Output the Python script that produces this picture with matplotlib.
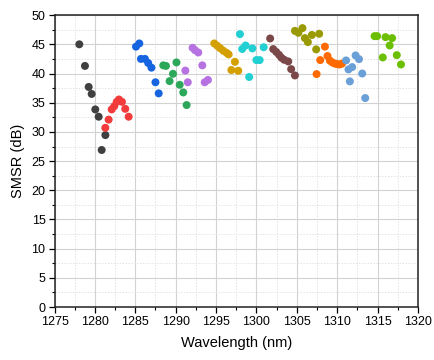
import matplotlib
matplotlib.use("Agg")
import matplotlib.pyplot as plt
from matplotlib.ticker import MultipleLocator

plt.rcParams['font.family'] = ['Liberation Sans', 'DejaVu Sans']

# Series data (wavelength nm, SMSR dB)
x_black = [1278.07, 1278.77, 1279.23, 1279.6, 1280.05, 1280.47, 1281.3, 1280.84]
y_black = [45.0, 41.3, 37.7, 36.5, 33.85, 32.6, 29.45, 26.9]

x_red = [1281.29, 1281.7, 1282.08, 1282.4, 1282.7, 1282.98, 1283.35, 1283.76, 1284.18]
y_red = [30.7, 32.1, 33.85, 34.4, 35.15, 35.55, 35.15, 33.95, 32.6]

x_blue = [1285.09, 1285.5, 1285.7, 1286.2, 1286.6, 1287.0, 1287.5, 1287.9]
y_blue = [44.6, 45.15, 42.5, 42.5, 41.8, 41.0, 38.5, 36.6]

x_green = [1288.47, 1288.8, 1290.1, 1289.67, 1289.25, 1290.5, 1290.94, 1291.36]
y_green = [41.4, 41.3, 41.9, 39.95, 38.7, 38.07, 36.76, 34.6]

x_purple = [1292.1, 1292.4, 1292.8, 1293.3, 1291.2, 1291.5, 1293.6, 1294.0]
y_purple = [44.4, 44.0, 43.6, 41.4, 40.5, 38.5, 38.5, 38.9]

x_gold = [1294.78, 1295.15, 1295.5, 1295.9, 1296.3, 1296.56, 1297.34, 1296.9, 1297.75]
y_gold = [45.15, 44.75, 44.35, 43.9, 43.55, 43.27, 42.0, 40.6, 40.47]

x_cyan = [1297.96, 1298.24, 1298.66, 1299.5, 1300.9, 1300.0, 1300.4, 1299.1]
y_cyan = [46.75, 44.2, 44.8, 44.3, 44.5, 42.3, 42.3, 39.4]

x_brown = [1301.7, 1302.08, 1302.45, 1302.8, 1303.1, 1303.44, 1303.94, 1304.3, 1304.77]
y_brown = [46.0, 44.18, 43.7, 43.2, 42.7, 42.35, 42.07, 40.75, 39.67]

x_olive = [1304.77, 1305.2, 1305.7, 1306.0, 1306.37, 1306.87, 1307.4, 1307.77]
y_olive = [47.3, 46.97, 47.77, 46.06, 45.38, 46.6, 44.13, 46.8]

x_orange = [1307.45, 1307.9, 1308.48, 1308.8, 1309.1, 1309.4, 1309.7, 1310.0, 1310.3, 1310.6]
y_orange = [39.9, 42.3, 44.6, 43.0, 42.2, 41.9, 41.7, 41.6, 41.55, 41.7]

x_lblue = [1311.1, 1311.4, 1311.86, 1312.28, 1312.7, 1313.1, 1311.57, 1313.47]
y_lblue = [42.24, 40.7, 41.1, 43.1, 42.46, 40.0, 38.65, 35.8]

x_lgreen = [1314.63, 1314.95, 1315.99, 1316.8, 1316.5, 1315.65, 1317.38, 1317.9]
y_lgreen = [46.4, 46.4, 46.23, 46.06, 44.8, 42.75, 43.15, 41.55]

series = [
    (x_black, y_black, '#404040'),
    (x_red, y_red, '#f23b3b'),
    (x_blue, y_blue, '#1764e0'),
    (x_green, y_green, '#2da85a'),
    (x_purple, y_purple, '#b572e0'),
    (x_gold, y_gold, '#d4a000'),
    (x_cyan, y_cyan, '#22cfd2'),
    (x_brown, y_brown, '#7a4848'),
    (x_olive, y_olive, '#999900'),
    (x_orange, y_orange, '#ff6a00'),
    (x_lblue, y_lblue, '#6a9fd8'),
    (x_lgreen, y_lgreen, '#6cbf00'),
]

fig = plt.figure(figsize=(4.34, 3.6), dpi=100)
ax = fig.add_axes([0.1256, 0.147, 0.8374, 0.811])

for xs, ys, c in series:
    ax.scatter(xs, ys, s=33, color=c, edgecolors='none', zorder=3)

ax.set_xlim(1275, 1320)
ax.set_ylim(0, 50)
ax.xaxis.set_major_locator(MultipleLocator(5))
ax.xaxis.set_minor_locator(MultipleLocator(2.5))
ax.yaxis.set_major_locator(MultipleLocator(5))
ax.yaxis.set_minor_locator(MultipleLocator(2.5))

ax.grid(which='major', color='#d2d2d2', linewidth=0.8, linestyle='-')
ax.grid(which='minor', color='#e4e4e4', linewidth=0.7, linestyle=(0, (1.5, 1.5)))
ax.set_axisbelow(True)

ax.tick_params(which='major', direction='out', length=4.5, width=0.9, labelsize=9,
               top=False, right=False, pad=2)
ax.tick_params(which='minor', direction='out', length=2.5, width=0.8,
               top=False, right=False)
for sp in ax.spines.values():
    sp.set_linewidth(1.1)
    sp.set_color('#222222')

ax.set_xlabel('Wavelength (nm)', fontsize=10.5, labelpad=6)
ax.set_ylabel('SMSR (dB)', fontsize=10.5, labelpad=5)

fig.savefig('out.png', dpi=100)
